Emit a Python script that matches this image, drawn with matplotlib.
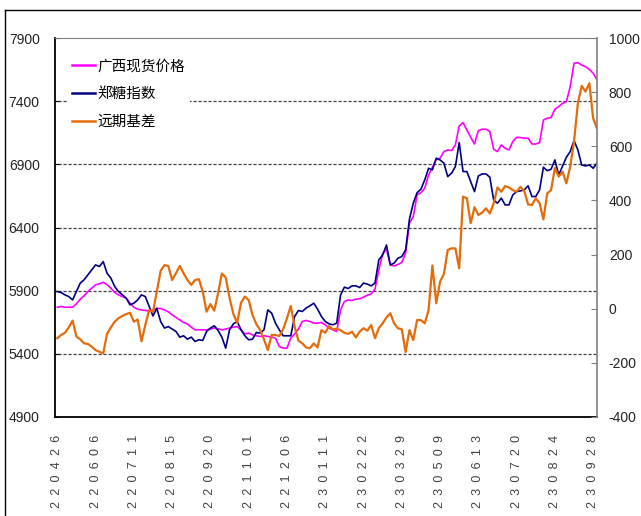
import numpy as np
import matplotlib
matplotlib.use("Agg")
import matplotlib.pyplot as plt
from matplotlib.lines import Line2D
from matplotlib.font_manager import FontProperties

plt.rcParams['font.family'] = ['Liberation Sans', 'DejaVu Sans']
plt.rcParams['axes.unicode_minus'] = False

# tick labels (every 10th point)
dates = ['220426', '220606', '220711', '220815', '220920', '221101', '221206', '230111',
         '230222', '230329', '230509', '230613', '230720', '230824', '230928']

# 广西现货价格 (left axis)
guangxi = [5769, 5775, 5769, 5769, 5769, 5796, 5833, 5859, 5893, 5920,
           5946, 5954, 5967, 5946, 5920, 5885, 5867, 5853, 5841, 5801,
           5769, 5754, 5748, 5743, 5740, 5745, 5760, 5758, 5748, 5732,
           5709, 5688, 5669, 5648, 5637, 5611, 5590, 5590, 5590, 5590,
           5596, 5604, 5598, 5590, 5596, 5604, 5611, 5616, 5590, 5558,
           5564, 5550, 5543, 5537, 5543, 5537, 5532, 5524, 5458, 5445,
           5445, 5524, 5558, 5596, 5656, 5664, 5656, 5643, 5643, 5648,
           5630, 5604, 5590, 5577, 5748, 5814, 5827, 5822, 5833, 5835,
           5849, 5864, 5875, 5912, 6065, 6191, 6228, 6104, 6096, 6107,
           6123, 6197, 6434, 6487, 6658, 6676, 6711, 6816, 6877, 6940,
           6948, 7001, 7014, 7009, 7054, 7204, 7230, 7172, 7114, 7061,
           7167, 7178, 7178, 7159, 7019, 7001, 7054, 7027, 7014, 7080,
           7114, 7112, 7107, 7107, 7061, 7061, 7072, 7251, 7265, 7270,
           7336, 7357, 7383, 7396, 7515, 7700, 7705, 7686, 7673, 7652,
           7621, 7568]

# 郑糖指数 (left axis)
zhengtang = [5893, 5885, 5867, 5853, 5827, 5893, 5960, 5986, 6025, 6065,
             6104, 6091, 6130, 6038, 5999, 5933, 5893, 5867, 5841, 5788,
             5801, 5827, 5867, 5853, 5775, 5700, 5760, 5656, 5604, 5616,
             5596, 5577, 5532, 5543, 5516, 5532, 5498, 5511, 5506, 5577,
             5604, 5622, 5585, 5532, 5445, 5590, 5637, 5656, 5590, 5543,
             5511, 5516, 5569, 5564, 5590, 5748, 5722, 5643, 5590, 5543,
             5543, 5543, 5696, 5743, 5735, 5762, 5780, 5801, 5754, 5696,
             5656, 5637, 5630, 5643, 5865, 5928, 5917, 5938, 5938, 5925,
             5960, 5952, 5938, 5960, 6144, 6183, 6262, 6104, 6118, 6157,
             6170, 6223, 6466, 6592, 6676, 6703, 6777, 6869, 6856, 6948,
             6935, 6909, 6803, 6830, 6882, 7072, 6843, 6843, 6764, 6684,
             6808, 6824, 6824, 6798, 6618, 6592, 6632, 6579, 6579, 6658,
             6684, 6690, 6698, 6730, 6645, 6645, 6698, 6877, 6850, 6861,
             6935, 6816, 6887, 6956, 7001, 7088, 7014, 6895, 6887, 6895,
             6869, 6909]

# 远期基差 (right axis)
jicha = [-109, -97, -89, -69, -44, -103, -113, -128, -130, -140,
         -153, -159, -165, -93, -69, -48, -35, -27, -20, -15,
         -48, -40, -120, -60, -5, -12, 63, 140, 161, 158,
         106, 131, 158, 131, 106, 88, 106, 109, 63, -11,
         17, -7, 57, 130, 115, 40, -20, -52, 22, 45,
         32, -23, -57, -79, -113, -153, -97, -97, -101, -76,
         -35, 10, -66, -118, -128, -143, -146, -128, -143, -79,
         -89, -64, -76, -74, -79, -89, -93, -85, -106, -85,
         -72, -81, -60, -109, -72, -54, -32, -17, -54, -72,
         -76, -160, -79, -116, -42, -42, -54, -5, 160, 20,
         100, 128, 217, 223, 223, 149, 414, 408, 316, 375,
         346, 355, 371, 352, 389, 448, 432, 453, 448, 438,
         432, 450, 435, 385, 383, 408, 390, 330, 426, 438,
         520, 488, 506, 463, 525, 617, 759, 823, 802, 833,
         703, 666]

x = np.arange(len(guangxi))

fig = plt.figure(figsize=(6.41, 5.16), dpi=100)
ax = fig.add_axes([55/641, 1-417/516, 542/641, 379/516])
ax2 = ax.twinx()

l1, = ax.plot(x, guangxi, color='#FF00FF', lw=1.2, label='广西现货价格')
l2, = ax.plot(x, zhengtang, color='#000080', lw=1.2, label='郑糖指数')
l3, = ax2.plot(x, jicha, color='#E46C0A', lw=1.6, label='远期基差')

left_ticks = np.arange(4900, 7901, 500)
ax.set_ylim(4900, 7900)
ax.set_yticks(left_ticks)
ax.hlines(left_ticks[1:-1], -1, 200, colors='#404040', linestyles=(0, (2.5, 1.5)), lw=0.9, zorder=1)
ax2.set_ylim(-400, 1000)
ax2.set_yticks(np.arange(-400, 1001, 200))
ax.set_xlim(-0.6, 141)
ax.set_xticks(np.arange(0, len(dates) * 10, 10))
ax.set_xticklabels(['\u2002'.join(d) for d in dates], rotation=90,
                   fontsize=9, color='#404040')

ax.tick_params(axis='x', length=0, pad=13)
ax.tick_params(axis='y', direction='in', length=3, pad=11, labelsize=10, labelcolor='#222222')
ax2.tick_params(axis='y', direction='in', length=4, color='#808080', pad=8.5,
                labelsize=10, labelcolor='#222222')

for s in ['left', 'bottom']:
    ax.spines[s].set_color('black')
    ax.spines[s].set_linewidth(1.3)
ax.spines['top'].set_color('#808080')
ax.spines['right'].set_visible(False)
for s in ['left', 'bottom', 'top']:
    ax2.spines[s].set_visible(False)
ax2.spines['right'].set_color('#808080')
ax2.spines['right'].set_linewidth(1.2)

leg = ax2.legend([l1, l2, l3], ['广西现货价格', '郑糖指数', '远期基差'],
                 loc='upper left', bbox_to_anchor=(0.01, 0.975),
                 prop=FontProperties(family='Noto Sans CJK SC', size=10.5),
                 handlelength=1.6, handletextpad=0.15, labelspacing=0.95,
                 borderpad=0.3, fancybox=False, framealpha=1, edgecolor='none')
for h in leg.get_lines():
    h.set_linewidth(1.8)

# outer frame lines (top and left)
fig.add_artist(Line2D([5/641, 1.0], [1-9.5/516, 1-9.5/516], transform=fig.transFigure, color='black', lw=1))
fig.add_artist(Line2D([5/641, 5/641], [0.0, 1-9.5/516], transform=fig.transFigure, color='black', lw=1))

fig.savefig('out.png', dpi=100)
